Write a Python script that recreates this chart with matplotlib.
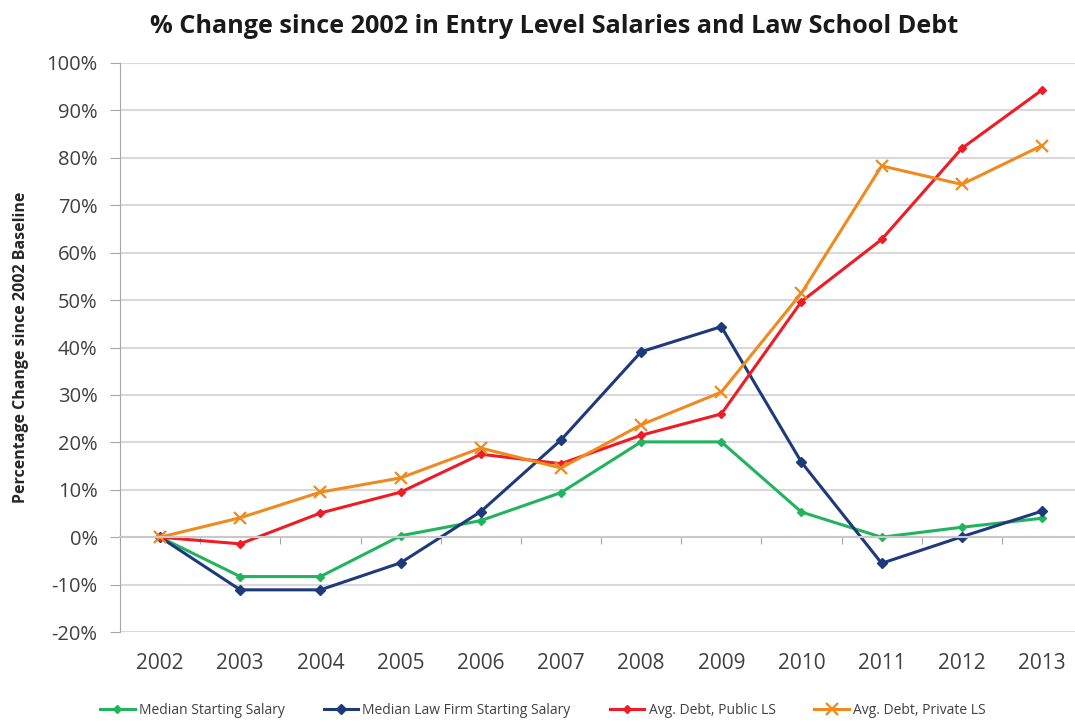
import matplotlib
matplotlib.use("Agg")
import matplotlib.pyplot as plt
import matplotlib.ticker as mticker
import numpy as np

# data (% change since 2002)
years = ["2002", "2003", "2004", "2005", "2006", "2007",
         "2008", "2009", "2010", "2011", "2012", "2013"]
median_salary = [0, -8.3, -8.3, 0.3, 3.5, 9.4, 20.1, 20.1, 5.3, 0, 2.1, 4.0]
median_firm_salary = [0, -11.1, -11.1, -5.4, 5.4, 20.5, 39.1, 44.4, 15.8, -5.5, 0.1, 5.5]
debt_public = [0, -1.4, 5.1, 9.5, 17.5, 15.5, 21.5, 26.0, 49.7, 62.8, 82.0, 94.3]
debt_private = [0, 4.1, 9.5, 12.5, 18.8, 14.6, 23.7, 30.6, 51.5, 78.3, 74.4, 82.6]

labels = ["Median Starting Salary", "Median Law Firm Starting Salary",
          "Avg. Debt, Public LS", "Avg. Debt, Private LS"]
colors = ["#22b35e", "#1f3a7a", "#ee1d25", "#ef8a1e"]

plt.rcParams['font.family'] = ['Open Sans', 'DejaVu Sans']

fig = plt.figure(figsize=(10.75, 7.24), dpi=100)
ax = fig.add_axes([0.1116, 0.127, 0.895, 0.786])

x = np.arange(len(years))
series = [median_salary, median_firm_salary, debt_public, debt_private]
markers = ["D", "D", "D", "x"]
sizes = [4.5, 5, 4.5, 9]
for vals, lab, col, m, s in zip(series, labels, colors, markers, sizes):
    ax.plot(x, vals, color=col, lw=2.2, marker=m, markersize=s,
            markeredgewidth=1.6 if m == "x" else 1, label=lab)

ax.set_xlim(-0.5, len(years) - 0.5)
ax.set_ylim(-20, 100)
ax.set_yticks(np.arange(-20, 101, 10))
ax.yaxis.set_major_formatter(mticker.FuncFormatter(lambda v, p: f"{v:.0f}%"))
ax.grid(axis="y", color="#d9d9d9", lw=1.5)
ax.set_axisbelow(True)

for sp in ["top", "right"]:
    ax.spines[sp].set_visible(False)
ax.spines["left"].set_color("#a6a6a6")
ax.spines["bottom"].set_position(("data", 0))
ax.spines["bottom"].set_color("#c8c8c8")
ax.spines["bottom"].set_linewidth(1.5)
ax.set_xticks(np.arange(-0.5, len(years), 1.0))
ax.tick_params(axis="x", length=5, color="#a6a6a6", labelbottom=False)
ax.tick_params(axis="y", length=7, color="#a6a6a6", labelsize=14.5,
               labelcolor="#404040", pad=9)

# category labels at the bottom of the plot
sec = ax.secondary_xaxis(0)
sec.set_xticks(x)
sec.set_xticklabels(years)
sec.tick_params(length=0, labelsize=15, labelcolor="#404040", pad=15)
sec.spines["bottom"].set_visible(False)

ax.set_ylabel("Percentage Change since 2002 Baseline", fontsize=11.5,
              fontweight="bold", color="#262626")
ax.yaxis.set_label_coords(-0.095, 0.5)
fig.suptitle("% Change since 2002 in Entry Level Salaries and Law School Debt",
             fontsize=18.2, fontweight="bold", color="#1a1a1a", x=0.515,
             y=0.963, va="center")

fig.legend(loc="center", bbox_to_anchor=(0.505, 0.019), ncol=4,
           frameon=False, fontsize=10, handlelength=2.5, handletextpad=0.3,
           columnspacing=2.8, labelcolor="#404040")

fig.savefig("out.png", dpi=100)
